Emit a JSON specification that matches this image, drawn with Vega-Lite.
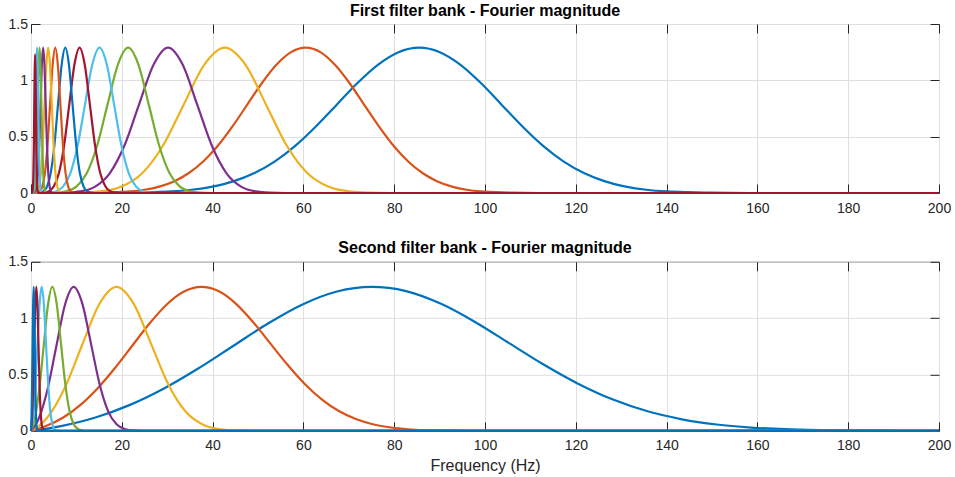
{
  "$schema": "https://vega.github.io/schema/vega-lite/v6.json",
  "padding": {"left": 7, "top": 2, "right": 5, "bottom": 2},
  "spacing": 23.8,
  "datasets": {
    "b1": [
      {"k":1,"f":0,"m":0},{"k":1,"f":12.7,"m":0},{"k":1,"f":21.8,"m":0.003},{"k":1,"f":26.35,"m":0.007},{"k":1,"f":30.9,"m":0.014},{"k":1,"f":35.45,"m":0.029},{"k":1,"f":40,"m":0.057},{"k":1,"f":44.55,"m":0.103},{"k":1,"f":49.1,"m":0.175},{"k":1,"f":53.65,"m":0.279},{"k":1,"f":58.2,"m":0.419},{"k":1,"f":62.75,"m":0.591},{"k":1,"f":67.3,"m":0.782},{"k":1,"f":71.85,"m":0.974},{"k":1,"f":76.4,"m":1.138},{"k":1,"f":80.95,"m":1.25},{"k":1,"f":85.5,"m":1.29},{"k":1,"f":90.05,"m":1.25},{"k":1,"f":94.6,"m":1.138},{"k":1,"f":99.15,"m":0.974},{"k":1,"f":103.7,"m":0.782},{"k":1,"f":108.25,"m":0.591},{"k":1,"f":112.8,"m":0.419},{"k":1,"f":117.35,"m":0.279},{"k":1,"f":121.9,"m":0.175},{"k":1,"f":126.45,"m":0.103},{"k":1,"f":131,"m":0.057},{"k":1,"f":135.55,"m":0.029},{"k":1,"f":140.1,"m":0.014},{"k":1,"f":144.65,"m":0.007},{"k":1,"f":149.2,"m":0.003},{"k":1,"f":158.3,"m":0},{"k":1,"f":200,"m":0},
      {"k":2,"f":0,"m":0},{"k":2,"f":8.9,"m":0},{"k":2,"f":15.35,"m":0.003},{"k":2,"f":18.58,"m":0.007},{"k":2,"f":21.8,"m":0.014},{"k":2,"f":25.03,"m":0.029},{"k":2,"f":28.25,"m":0.057},{"k":2,"f":31.48,"m":0.103},{"k":2,"f":34.7,"m":0.175},{"k":2,"f":37.93,"m":0.279},{"k":2,"f":41.15,"m":0.419},{"k":2,"f":44.38,"m":0.591},{"k":2,"f":47.6,"m":0.782},{"k":2,"f":50.83,"m":0.974},{"k":2,"f":54.05,"m":1.138},{"k":2,"f":57.28,"m":1.25},{"k":2,"f":60.5,"m":1.29},{"k":2,"f":63.73,"m":1.25},{"k":2,"f":66.95,"m":1.138},{"k":2,"f":70.18,"m":0.974},{"k":2,"f":73.4,"m":0.782},{"k":2,"f":76.63,"m":0.591},{"k":2,"f":79.85,"m":0.419},{"k":2,"f":83.08,"m":0.279},{"k":2,"f":86.3,"m":0.175},{"k":2,"f":89.53,"m":0.103},{"k":2,"f":92.75,"m":0.057},{"k":2,"f":95.98,"m":0.029},{"k":2,"f":99.2,"m":0.014},{"k":2,"f":102.43,"m":0.007},{"k":2,"f":105.65,"m":0.003},{"k":2,"f":112.1,"m":0},{"k":2,"f":200,"m":0},
      {"k":3,"f":0,"m":0},{"k":3,"f":6.3,"m":0},{"k":3,"f":10.85,"m":0.003},{"k":3,"f":15.4,"m":0.014},{"k":3,"f":19.95,"m":0.057},{"k":3,"f":24.5,"m":0.175},{"k":3,"f":29.05,"m":0.419},{"k":3,"f":33.6,"m":0.782},{"k":3,"f":38.15,"m":1.138},{"k":3,"f":42.7,"m":1.29},{"k":3,"f":47.25,"m":1.138},{"k":3,"f":51.8,"m":0.782},{"k":3,"f":56.35,"m":0.419},{"k":3,"f":60.9,"m":0.175},{"k":3,"f":65.45,"m":0.057},{"k":3,"f":70.0,"m":0.014},{"k":3,"f":74.55,"m":0.003},{"k":3,"f":79.1,"m":0},{"k":3,"f":200,"m":0},
      {"k":4,"f":0,"m":0},{"k":4,"f":4.48,"m":0},{"k":4,"f":7.7,"m":0.003},{"k":4,"f":10.91,"m":0.014},{"k":4,"f":14.13,"m":0.057},{"k":4,"f":17.34,"m":0.175},{"k":4,"f":20.56,"m":0.419},{"k":4,"f":23.77,"m":0.782},{"k":4,"f":26.99,"m":1.138},{"k":4,"f":30.2,"m":1.29},{"k":4,"f":33.42,"m":1.138},{"k":4,"f":36.63,"m":0.782},{"k":4,"f":39.85,"m":0.419},{"k":4,"f":43.06,"m":0.175},{"k":4,"f":46.28,"m":0.057},{"k":4,"f":49.49,"m":0.014},{"k":4,"f":52.71,"m":0.003},{"k":4,"f":55.92,"m":0},{"k":4,"f":200,"m":0},
      {"k":5,"f":0,"m":0},{"k":5,"f":3.16,"m":0},{"k":5,"f":5.44,"m":0.003},{"k":5,"f":7.72,"m":0.014},{"k":5,"f":10.0,"m":0.057},{"k":5,"f":12.28,"m":0.175},{"k":5,"f":14.56,"m":0.419},{"k":5,"f":16.84,"m":0.782},{"k":5,"f":19.12,"m":1.138},{"k":5,"f":21.4,"m":1.29},{"k":5,"f":23.68,"m":1.138},{"k":5,"f":25.96,"m":0.782},{"k":5,"f":28.24,"m":0.419},{"k":5,"f":30.52,"m":0.175},{"k":5,"f":32.8,"m":0.057},{"k":5,"f":35.08,"m":0.014},{"k":5,"f":37.36,"m":0.003},{"k":5,"f":39.64,"m":0},{"k":5,"f":200,"m":0},
      {"k":6,"f":0,"m":0},{"k":6,"f":2.22,"m":0},{"k":6,"f":3.83,"m":0.003},{"k":6,"f":5.44,"m":0.014},{"k":6,"f":7.05,"m":0.057},{"k":6,"f":8.66,"m":0.175},{"k":6,"f":10.27,"m":0.419},{"k":6,"f":11.88,"m":0.782},{"k":6,"f":13.49,"m":1.138},{"k":6,"f":15.1,"m":1.29},{"k":6,"f":16.71,"m":1.138},{"k":6,"f":18.32,"m":0.782},{"k":6,"f":19.93,"m":0.419},{"k":6,"f":21.54,"m":0.175},{"k":6,"f":23.15,"m":0.057},{"k":6,"f":24.76,"m":0.014},{"k":6,"f":26.37,"m":0.003},{"k":6,"f":27.98,"m":0},{"k":6,"f":200,"m":0},
      {"k":7,"f":0,"m":0},{"k":7,"f":1.58,"m":0},{"k":7,"f":2.72,"m":0.003},{"k":7,"f":3.86,"m":0.014},{"k":7,"f":5.0,"m":0.057},{"k":7,"f":6.14,"m":0.175},{"k":7,"f":7.28,"m":0.419},{"k":7,"f":8.42,"m":0.782},{"k":7,"f":9.56,"m":1.138},{"k":7,"f":10.7,"m":1.29},{"k":7,"f":11.84,"m":1.138},{"k":7,"f":12.98,"m":0.782},{"k":7,"f":14.12,"m":0.419},{"k":7,"f":15.26,"m":0.175},{"k":7,"f":16.4,"m":0.057},{"k":7,"f":17.54,"m":0.014},{"k":7,"f":18.68,"m":0.003},{"k":7,"f":19.82,"m":0},{"k":7,"f":200,"m":0},
      {"k":8,"f":0,"m":0},{"k":8,"f":1.11,"m":0},{"k":8,"f":1.92,"m":0.003},{"k":8,"f":2.72,"m":0.014},{"k":8,"f":3.53,"m":0.057},{"k":8,"f":4.33,"m":0.175},{"k":8,"f":5.14,"m":0.419},{"k":8,"f":5.94,"m":0.782},{"k":8,"f":6.75,"m":1.138},{"k":8,"f":7.55,"m":1.29},{"k":8,"f":8.36,"m":1.138},{"k":8,"f":9.16,"m":0.782},{"k":8,"f":9.97,"m":0.419},{"k":8,"f":10.77,"m":0.175},{"k":8,"f":11.58,"m":0.057},{"k":8,"f":12.38,"m":0.014},{"k":8,"f":13.19,"m":0.003},{"k":8,"f":13.99,"m":0},{"k":8,"f":200,"m":0},
      {"k":9,"f":0,"m":0},{"k":9,"f":0.78,"m":0},{"k":9,"f":1.35,"m":0.003},{"k":9,"f":1.92,"m":0.014},{"k":9,"f":2.49,"m":0.057},{"k":9,"f":3.06,"m":0.175},{"k":9,"f":3.63,"m":0.419},{"k":9,"f":4.2,"m":0.782},{"k":9,"f":4.77,"m":1.138},{"k":9,"f":5.34,"m":1.29},{"k":9,"f":5.91,"m":1.138},{"k":9,"f":6.48,"m":0.782},{"k":9,"f":7.05,"m":0.419},{"k":9,"f":7.62,"m":0.175},{"k":9,"f":8.19,"m":0.057},{"k":9,"f":8.76,"m":0.014},{"k":9,"f":9.33,"m":0.003},{"k":9,"f":9.9,"m":0},{"k":9,"f":200,"m":0},
      {"k":10,"f":0,"m":0},{"k":10,"f":0.56,"m":0},{"k":10,"f":0.96,"m":0.003},{"k":10,"f":1.37,"m":0.014},{"k":10,"f":1.77,"m":0.057},{"k":10,"f":2.17,"m":0.175},{"k":10,"f":2.57,"m":0.419},{"k":10,"f":2.98,"m":0.782},{"k":10,"f":3.38,"m":1.138},{"k":10,"f":3.78,"m":1.29},{"k":10,"f":4.18,"m":1.138},{"k":10,"f":4.59,"m":0.782},{"k":10,"f":4.99,"m":0.419},{"k":10,"f":5.39,"m":0.175},{"k":10,"f":5.79,"m":0.057},{"k":10,"f":6.2,"m":0.014},{"k":10,"f":6.6,"m":0.003},{"k":10,"f":7.0,"m":0},{"k":10,"f":200,"m":0},
      {"k":11,"f":0,"m":0},{"k":11,"f":0.39,"m":0},{"k":11,"f":0.68,"m":0.003},{"k":11,"f":0.96,"m":0.014},{"k":11,"f":1.25,"m":0.057},{"k":11,"f":1.53,"m":0.175},{"k":11,"f":1.82,"m":0.419},{"k":11,"f":2.1,"m":0.782},{"k":11,"f":2.39,"m":1.138},{"k":11,"f":2.67,"m":1.29},{"k":11,"f":2.96,"m":1.138},{"k":11,"f":3.24,"m":0.782},{"k":11,"f":3.53,"m":0.419},{"k":11,"f":3.81,"m":0.175},{"k":11,"f":4.1,"m":0.057},{"k":11,"f":4.38,"m":0.014},{"k":11,"f":4.67,"m":0.003},{"k":11,"f":4.95,"m":0},{"k":11,"f":200,"m":0},
      {"k":12,"f":0,"m":0},{"k":12,"f":0.29,"m":0},{"k":12,"f":0.49,"m":0.003},{"k":12,"f":0.69,"m":0.014},{"k":12,"f":0.89,"m":0.057},{"k":12,"f":1.09,"m":0.175},{"k":12,"f":1.29,"m":0.419},{"k":12,"f":1.49,"m":0.782},{"k":12,"f":1.69,"m":1.138},{"k":12,"f":1.89,"m":1.29},{"k":12,"f":2.09,"m":1.138},{"k":12,"f":2.29,"m":0.782},{"k":12,"f":2.49,"m":0.419},{"k":12,"f":2.69,"m":0.175},{"k":12,"f":2.89,"m":0.057},{"k":12,"f":3.09,"m":0.014},{"k":12,"f":3.29,"m":0.003},{"k":12,"f":3.49,"m":0},{"k":12,"f":200,"m":0},
      {"k":13,"f":0,"m":0},{"k":13,"f":0.21,"m":0},{"k":13,"f":0.35,"m":0.003},{"k":13,"f":0.49,"m":0.014},{"k":13,"f":0.63,"m":0.057},{"k":13,"f":0.77,"m":0.175},{"k":13,"f":0.91,"m":0.419},{"k":13,"f":1.05,"m":0.782},{"k":13,"f":1.19,"m":1.138},{"k":13,"f":1.33,"m":1.29},{"k":13,"f":1.47,"m":1.138},{"k":13,"f":1.61,"m":0.782},{"k":13,"f":1.75,"m":0.419},{"k":13,"f":1.89,"m":0.175},{"k":13,"f":2.03,"m":0.057},{"k":13,"f":2.17,"m":0.014},{"k":13,"f":2.31,"m":0.003},{"k":13,"f":2.45,"m":0},{"k":13,"f":200,"m":0},
      {"k":14,"f":0,"m":0},{"k":14,"f":0.14,"m":0},{"k":14,"f":0.24,"m":0.003},{"k":14,"f":0.33,"m":0.014},{"k":14,"f":0.43,"m":0.054},{"k":14,"f":0.52,"m":0.166},{"k":14,"f":0.62,"m":0.399},{"k":14,"f":0.71,"m":0.746},{"k":14,"f":0.81,"m":1.085},{"k":14,"f":0.9,"m":1.23},{"k":14,"f":0.99,"m":1.085},{"k":14,"f":1.09,"m":0.746},{"k":14,"f":1.18,"m":0.399},{"k":14,"f":1.28,"m":0.166},{"k":14,"f":1.37,"m":0.054},{"k":14,"f":1.47,"m":0.014},{"k":14,"f":1.56,"m":0.003},{"k":14,"f":1.66,"m":0},{"k":14,"f":200,"m":0}
    ],
    "b2": [
      {"k":1,"f":0,"m":0},{"k":1,"f":6.6,"m":0.042},{"k":1,"f":14.2,"m":0.118},{"k":1,"f":21.8,"m":0.23},{"k":1,"f":29.4,"m":0.378},{"k":1,"f":37,"m":0.557},{"k":1,"f":44.6,"m":0.755},{"k":1,"f":52.2,"m":0.952},{"k":1,"f":59.8,"m":1.121},{"k":1,"f":67.4,"m":1.236},{"k":1,"f":75,"m":1.277},{"k":1,"f":82.6,"m":1.24},{"k":1,"f":90.2,"m":1.129},{"k":1,"f":97.8,"m":0.966},{"k":1,"f":105.4,"m":0.776},{"k":1,"f":113,"m":0.586},{"k":1,"f":120.6,"m":0.416},{"k":1,"f":128.2,"m":0.277},{"k":1,"f":135.8,"m":0.173},{"k":1,"f":143.4,"m":0.102},{"k":1,"f":151,"m":0.056},{"k":1,"f":158.6,"m":0.029},{"k":1,"f":166.2,"m":0.014},{"k":1,"f":173.8,"m":0.0065},{"k":1,"f":181.4,"m":0.003},{"k":1,"f":196.6,"m":0},{"k":1,"f":200,"m":0},
      {"k":2,"f":0,"m":0},{"k":2,"f":3.3,"m":0.042},{"k":2,"f":7.1,"m":0.118},{"k":2,"f":10.9,"m":0.23},{"k":2,"f":14.7,"m":0.378},{"k":2,"f":18.5,"m":0.557},{"k":2,"f":22.3,"m":0.755},{"k":2,"f":26.1,"m":0.952},{"k":2,"f":29.9,"m":1.121},{"k":2,"f":33.7,"m":1.236},{"k":2,"f":37.5,"m":1.277},{"k":2,"f":41.3,"m":1.24},{"k":2,"f":45.1,"m":1.129},{"k":2,"f":48.9,"m":0.966},{"k":2,"f":52.7,"m":0.776},{"k":2,"f":56.5,"m":0.586},{"k":2,"f":60.3,"m":0.416},{"k":2,"f":64.1,"m":0.277},{"k":2,"f":67.9,"m":0.173},{"k":2,"f":71.7,"m":0.102},{"k":2,"f":75.5,"m":0.056},{"k":2,"f":79.3,"m":0.029},{"k":2,"f":83.1,"m":0.014},{"k":2,"f":86.9,"m":0.0065},{"k":2,"f":90.7,"m":0.003},{"k":2,"f":98.3,"m":0},{"k":2,"f":200,"m":0},
      {"k":3,"f":0,"m":0},{"k":3,"f":1.7,"m":0.042},{"k":3,"f":3.6,"m":0.118},{"k":3,"f":7.4,"m":0.378},{"k":3,"f":11.2,"m":0.755},{"k":3,"f":15,"m":1.121},{"k":3,"f":18.8,"m":1.277},{"k":3,"f":22.6,"m":1.129},{"k":3,"f":26.4,"m":0.776},{"k":3,"f":30.2,"m":0.416},{"k":3,"f":34,"m":0.173},{"k":3,"f":37.8,"m":0.056},{"k":3,"f":41.6,"m":0.014},{"k":3,"f":45.4,"m":0.003},{"k":3,"f":49.2,"m":0},{"k":3,"f":200,"m":0},
      {"k":4,"f":0,"m":0},{"k":4,"f":0.85,"m":0.042},{"k":4,"f":1.8,"m":0.118},{"k":4,"f":3.7,"m":0.378},{"k":4,"f":5.6,"m":0.755},{"k":4,"f":7.5,"m":1.121},{"k":4,"f":9.4,"m":1.277},{"k":4,"f":11.3,"m":1.129},{"k":4,"f":13.2,"m":0.776},{"k":4,"f":15.1,"m":0.416},{"k":4,"f":17,"m":0.173},{"k":4,"f":18.9,"m":0.056},{"k":4,"f":20.8,"m":0.014},{"k":4,"f":22.7,"m":0.003},{"k":4,"f":24.6,"m":0},{"k":4,"f":200,"m":0},
      {"k":5,"f":0,"m":0},{"k":5,"f":0.43,"m":0.042},{"k":5,"f":0.9,"m":0.118},{"k":5,"f":1.85,"m":0.378},{"k":5,"f":2.8,"m":0.755},{"k":5,"f":3.75,"m":1.121},{"k":5,"f":4.7,"m":1.277},{"k":5,"f":5.65,"m":1.129},{"k":5,"f":6.6,"m":0.776},{"k":5,"f":7.55,"m":0.416},{"k":5,"f":8.5,"m":0.173},{"k":5,"f":9.45,"m":0.056},{"k":5,"f":10.4,"m":0.014},{"k":5,"f":11.35,"m":0.003},{"k":5,"f":12.3,"m":0},{"k":5,"f":200,"m":0},
      {"k":6,"f":0,"m":0},{"k":6,"f":0.21,"m":0.042},{"k":6,"f":0.45,"m":0.118},{"k":6,"f":0.93,"m":0.378},{"k":6,"f":1.4,"m":0.755},{"k":6,"f":1.88,"m":1.121},{"k":6,"f":2.35,"m":1.277},{"k":6,"f":2.83,"m":1.129},{"k":6,"f":3.3,"m":0.776},{"k":6,"f":3.78,"m":0.416},{"k":6,"f":4.25,"m":0.173},{"k":6,"f":4.73,"m":0.056},{"k":6,"f":5.2,"m":0.014},{"k":6,"f":5.68,"m":0.003},{"k":6,"f":6.15,"m":0},{"k":6,"f":200,"m":0},
      {"k":7,"f":0,"m":0},{"k":7,"f":0.11,"m":0.042},{"k":7,"f":0.23,"m":0.118},{"k":7,"f":0.47,"m":0.378},{"k":7,"f":0.7,"m":0.755},{"k":7,"f":0.94,"m":1.121},{"k":7,"f":1.17,"m":1.277},{"k":7,"f":1.41,"m":1.129},{"k":7,"f":1.64,"m":0.776},{"k":7,"f":1.88,"m":0.416},{"k":7,"f":2.11,"m":0.173},{"k":7,"f":2.35,"m":0.056},{"k":7,"f":2.58,"m":0.014},{"k":7,"f":2.82,"m":0.003},{"k":7,"f":3.05,"m":0},{"k":7,"f":200,"m":0},
      {"k":8,"f":0,"m":0},{"k":8,"f":0.05,"m":0.042},{"k":8,"f":0.11,"m":0.118},{"k":8,"f":0.23,"m":0.378},{"k":8,"f":0.35,"m":0.755},{"k":8,"f":0.47,"m":1.121},{"k":8,"f":0.59,"m":1.277},{"k":8,"f":0.71,"m":1.129},{"k":8,"f":0.83,"m":0.776},{"k":8,"f":0.95,"m":0.416},{"k":8,"f":1.07,"m":0.173},{"k":8,"f":1.19,"m":0.056},{"k":8,"f":1.31,"m":0.014},{"k":8,"f":1.43,"m":0.003},{"k":8,"f":1.55,"m":0},{"k":8,"f":200,"m":0}
    ],
    "ax": [{"f":0,"m":0}]
  },
  "vconcat": [
    {
      "title": {"text": "First filter bank - Fourier magnitude"},
      "width": 908,
      "height": 169,
      "layer": [
        {
          "data": {"name": "b1"},
          "mark": {"type": "line", "interpolate": "monotone", "strokeWidth": 2.2, "clip": false},
          "encoding": {
            "x": {"field": "f", "type": "quantitative", "scale": {"domain": [0, 200], "nice": false, "zero": false},
                  "axis": {"orient": "bottom", "title": null, "values": [0,20,40,60,80,100,120,140,160,180,200], "labelFlush": false, "labelOverlap": false, "labelPadding": 17}},
            "y": {"field": "m", "type": "quantitative", "scale": {"domain": [0, 1.5], "nice": false},
                  "axis": {"orient": "left", "title": null, "values": [0,0.5,1,1.5], "format": "~g", "labelPadding": 12.5}},
            "color": {"field": "k", "type": "nominal", "legend": null,
                      "scale": {"domain": [1,2,3,4,5,6,7,8,9,10,11,12,13,14],
                                "range": ["#0072BD","#D95319","#EDB120","#7E2F8E","#77AC30","#4DBEEE","#A2142F","#0072BD","#D95319","#EDB120","#7E2F8E","#77AC30","#4DBEEE","#A2142F"]}}
          }
        },
        {
          "data": {"name": "ax"},
          "mark": {"type": "point", "opacity": 0},
          "encoding": {
            "x": {"field": "f", "type": "quantitative", "scale": {"domain": [0, 200], "nice": false, "zero": false},
                  "axis": {"orient": "top", "title": null, "labels": false, "grid": false, "values": [0,20,40,60,80,100,120,140,160,180,200]}},
            "y": {"field": "m", "type": "quantitative", "scale": {"domain": [0, 1.5], "nice": false},
                  "axis": {"orient": "right", "title": null, "labels": false, "grid": false, "values": [0,0.5,1,1.5]}}
          }
        }
      ],
      "resolve": {"axis": {"x": "independent", "y": "independent"}}
    },
    {
      "title": {"text": "Second filter bank - Fourier magnitude"},
      "width": 908,
      "height": 169,
      "layer": [
        {
          "data": {"name": "b2"},
          "mark": {"type": "line", "interpolate": "monotone", "strokeWidth": 2.2, "clip": false},
          "encoding": {
            "x": {"field": "f", "type": "quantitative", "scale": {"domain": [0, 200], "nice": false, "zero": false},
                  "axis": {"orient": "bottom", "title": "Frequency (Hz)", "titlePadding": 5, "values": [0,20,40,60,80,100,120,140,160,180,200], "labelFlush": false, "labelOverlap": false, "labelPadding": 17}},
            "y": {"field": "m", "type": "quantitative", "scale": {"domain": [0, 1.5], "nice": false},
                  "axis": {"orient": "left", "title": null, "values": [0,0.5,1,1.5], "format": "~g", "labelPadding": 12.5}},
            "color": {"field": "k", "type": "nominal", "legend": null,
                      "scale": {"domain": [1,2,3,4,5,6,7,8],
                                "range": ["#0072BD","#D95319","#EDB120","#7E2F8E","#77AC30","#4DBEEE","#A2142F","#0072BD"]}}
          }
        },
        {
          "data": {"name": "ax"},
          "mark": {"type": "point", "opacity": 0},
          "encoding": {
            "x": {"field": "f", "type": "quantitative", "scale": {"domain": [0, 200], "nice": false, "zero": false},
                  "axis": {"orient": "top", "title": null, "labels": false, "grid": false, "values": [0,20,40,60,80,100,120,140,160,180,200]}},
            "y": {"field": "m", "type": "quantitative", "scale": {"domain": [0, 1.5], "nice": false},
                  "axis": {"orient": "right", "title": null, "labels": false, "grid": false, "values": [0,0.5,1,1.5]}}
          }
        }
      ],
      "resolve": {"axis": {"x": "independent", "y": "independent"}}
    }
  ],
  "resolve": {"scale": {"color": "independent"}},
  "config": {
    "view": {"stroke": "#262626", "strokeWidth": 1},
    "font": "Liberation Sans",
    "axis": {
      "labelFont": "Liberation Sans", "labelFontSize": 14, "labelColor": "#262626",
      "tickColor": "#262626", "tickSize": -9, "tickWidth": 1,
      "gridColor": "#dfdfdf", "gridWidth": 1, "domain": false,
      "titleFont": "Liberation Sans", "titleFontSize": 16, "titleFontWeight": "normal", "titleColor": "#262626"
    },
    "title": {"font": "Liberation Sans", "fontSize": 16, "fontWeight": "bold", "color": "#000000", "offset": -1.5, "baseline": "alphabetic", "anchor": "middle"}
  }
}
